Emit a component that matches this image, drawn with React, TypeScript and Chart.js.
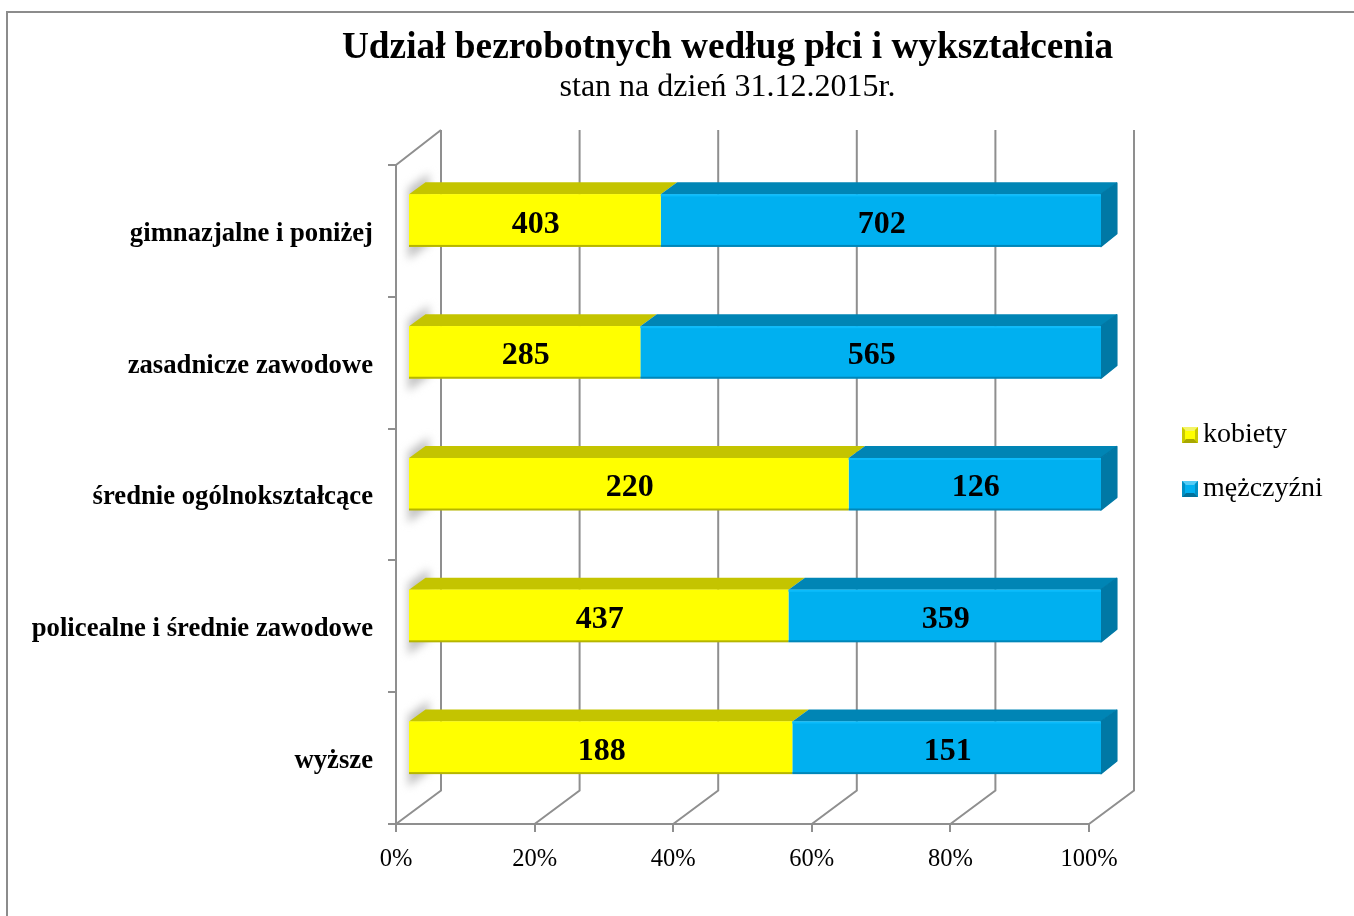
import React, { useEffect, useRef } from "react";
import { Chart, registerables } from "chart.js";

Chart.register(...registerables);

const categories = [
  "gimnazjalne i poniżej",
  "zasadnicze zawodowe",
  "średnie ogólnokształcące",
  "policealne i średnie zawodowe",
  "wyższe",
];
const kobiety = [403, 285, 220, 437, 188];
const mezczyzni = [702, 565, 126, 359, 151];
const seriesNames = ["kobiety", "mężczyźni"];
const titleText = "Udział bezrobotnych według płci i wykształcenia";
const subtitleText = "stan na dzień 31.12.2015r.";

const SERIF = "'Liberation Serif', 'Times New Roman', serif";
const GRAY = "#8f8f8f";
const WALL_DX = 45;
const WALL_DY = -33.5;
const BAR_DX = 12;
const BAR_DY = -10.5;
const FACE_DX = 16.5;
const FACE_DY = -12;
const faces = [
  { front: "#ffff00", top: "#c4c400", edge: "#b5b500", side: "#a8a800", shine: "#ffff00" },
  { front: "#00b0f0", top: "#0085b5", edge: "#0086b8", side: "#0078a5", shine: "#0cbcfb" },
];

function legendIcon(colorTop: string, colorMid: string, colorBottom: string, colorSide: string) {
  const c = document.createElement("canvas");
  c.width = 24;
  c.height = 16;
  const g = c.getContext("2d")!;
  const x = 8;
  g.fillStyle = colorMid;
  g.fillRect(x, 0, 16, 16);
  g.fillStyle = colorTop;
  g.beginPath();
  g.moveTo(x, 0);
  g.lineTo(x + 16, 0);
  g.lineTo(x + 12, 4);
  g.lineTo(x + 4, 4);
  g.closePath();
  g.fill();
  g.fillStyle = colorSide;
  g.beginPath();
  g.moveTo(x, 0);
  g.lineTo(x + 3, 3);
  g.lineTo(x + 3, 13);
  g.lineTo(x, 16);
  g.closePath();
  g.fill();
  g.beginPath();
  g.moveTo(x + 16, 0);
  g.lineTo(x + 13, 3);
  g.lineTo(x + 13, 13);
  g.lineTo(x + 16, 16);
  g.closePath();
  g.fill();
  g.fillStyle = colorBottom;
  g.beginPath();
  g.moveTo(x, 16);
  g.lineTo(x + 16, 16);
  g.lineTo(x + 12, 12);
  g.lineTo(x + 4, 12);
  g.closePath();
  g.fill();
  return c;
}

const placement = {
  id: "placement",
  afterLayout(chart: any) {
    chart.boxes
      .filter((b: any) => b.position === "top" && !b.isScale)
      .forEach((b: any) => {
        b.left = 101;
        b.right = 1354;
      });
    const legend = chart.legend;
    if (legend) {
      legend.left = 1157;
      legend.right = 1354;
      legend.top = 395;
      legend.bottom = 860;
    }
  },
};

const frame = {
  id: "frame",
  beforeDraw(chart: any) {
    const g = chart.ctx;
    g.save();
    g.strokeStyle = "#8c8c8c";
    g.lineWidth = 2;
    g.beginPath();
    g.moveTo(7, 916);
    g.lineTo(7, 12);
    g.lineTo(1354, 12);
    g.stroke();
    g.restore();
  },
};

const depth = {
  id: "depth",
  beforeDatasetsDraw(chart: any) {
    const g = chart.ctx;
    const { top, bottom, left } = chart.chartArea;
    const x = chart.scales.x;
    g.save();
    g.strokeStyle = GRAY;
    g.lineWidth = 2;
    g.beginPath();
    x.ticks.forEach((_: any, i: number) => {
      const px = x.getPixelForTick(i);
      g.moveTo(px, bottom);
      g.lineTo(px + WALL_DX, bottom + WALL_DY);
      g.lineTo(px + WALL_DX, top + WALL_DY - 1.5);
    });
    g.moveTo(left, top);
    g.lineTo(left + WALL_DX, top + WALL_DY - 1.5);
    g.stroke();

    // soft shadow that the bars cast on the left wall
    const m0 = chart.getDatasetMeta(0);
    m0.data.forEach((bar: any) => {
      const x0 = bar.base + BAR_DX;
      const y0 = bar.y + BAR_DY - bar.height / 2;
      const y1 = bar.y + BAR_DY + bar.height / 2;
      g.save();
      g.filter = "blur(4px)";
      g.fillStyle = "#c2c2c2";
      g.beginPath();
      g.moveTo(x0 - 1, y0 - 6);
      g.lineTo(x0 + 20, y0 - 21);
      g.lineTo(x0 + 20, y1 - 2);
      g.lineTo(x0 - 1, y1 + 13);
      g.closePath();
      g.fill();
      g.restore();
    });
    g.restore();

    // the top and end faces of every bar, then the bars themselves
    g.save();
    g.translate(BAR_DX, BAR_DY);
    g.lineJoin = "round";
    g.lineWidth = 1.5;
    [0, 1].forEach((d) => {
      chart.getDatasetMeta(d).data.forEach((bar: any) => {
        const yTop = bar.y - bar.height / 2;
        g.fillStyle = faces[d].top;
        g.beginPath();
        g.moveTo(bar.base, yTop);
        g.lineTo(bar.base + FACE_DX, yTop + FACE_DY);
        g.lineTo(bar.x + FACE_DX, yTop + FACE_DY);
        g.lineTo(bar.x, yTop);
        g.closePath();
        g.fill();
        if (d === 1) {
          g.fillStyle = faces[d].side;
          g.strokeStyle = faces[d].side;
          g.beginPath();
          g.moveTo(bar.x, yTop);
          g.lineTo(bar.x + FACE_DX - 0.7, yTop + FACE_DY + 0.7);
          g.lineTo(bar.x + FACE_DX - 0.7, yTop + FACE_DY + bar.height - 0.7);
          g.lineTo(bar.x, yTop + bar.height);
          g.closePath();
          g.fill();
          g.stroke();
        }
      });
    });
  },
  afterDatasetsDraw(chart: any) {
    const g = chart.ctx;
    [0, 1].forEach((d) => {
      chart.getDatasetMeta(d).data.forEach((bar: any) => {
        g.fillStyle = faces[d].edge;
        g.fillRect(bar.base, bar.y + bar.height / 2 - 1.5, bar.x - bar.base, 2);
        g.fillStyle = faces[d].shine;
        g.fillRect(bar.base, bar.y - bar.height / 2, bar.x - bar.base, 2);
      });
    });
    g.fillStyle = "#000000";
    g.font = `bold 32px ${SERIF}`;
    g.textAlign = "center";
    g.textBaseline = "middle";
    const raw = [kobiety, mezczyzni];
    [0, 1].forEach((d) => {
      chart.getDatasetMeta(d).data.forEach((bar: any, i: number) => {
        g.fillText(String(raw[d][i]), (bar.base + bar.x) / 2 + 1, bar.y + 4);
      });
    });
    g.restore();
  },
};

export default function App() {
  const ref = useRef<HTMLCanvasElement>(null);
  useEffect(() => {
    document.body.style.margin = "0";
    const icons = [
      legendIcon("#f4f466", "#ffff00", "#a8a800", "#c9c900"),
      legendIcon("#55ccf5", "#00b0f0", "#00709a", "#0090c4"),
    ];
    const share = (a: number, b: number) => (a / (a + b)) * 100;
    const chart = new Chart(ref.current!, {
      type: "bar",
      plugins: [placement, frame, depth],
      data: {
        labels: categories,
        datasets: [
          {
            label: seriesNames[0],
            data: kobiety.map((v, i) => share(v, mezczyzni[i])),
            backgroundColor: faces[0].front,
            borderWidth: 0,
            clip: false,
          },
          {
            label: seriesNames[1],
            data: mezczyzni.map((v, i) => share(v, kobiety[i])),
            backgroundColor: faces[1].front,
            borderWidth: 0,
            clip: false,
          },
        ] as any,
      },
      options: {
        indexAxis: "y",
        responsive: false,
        animation: false,
        events: [],
        layout: { padding: { left: 0, top: 0, right: 265, bottom: 0 } },
        datasets: { bar: { barPercentage: 1, categoryPercentage: 0.395 } },
        scales: {
          x: {
            stacked: true,
            min: 0,
            max: 100,
            afterFit: (s: any) => {
              s.height = 92;
            },
            ticks: {
              stepSize: 20,
              maxRotation: 0,
              padding: 13,
              color: "#000000",
              font: { family: SERIF, size: 24.5 },
              callback: (v: any) => `${v}%`,
            },
            grid: { drawOnChartArea: false, drawTicks: true, tickLength: 8, color: GRAY, lineWidth: 2 },
            border: { display: true, color: GRAY, width: 2 },
          },
          y: {
            stacked: true,
            afterFit: (s: any) => {
              s.width = 396;
            },
            ticks: {
              padding: 15,
              labelOffset: 3,
              color: "#000000",
              autoSkip: false,
              font: { family: SERIF, size: 26.7, weight: "bold" },
            },
            grid: { drawOnChartArea: false, drawTicks: true, tickLength: 8, color: GRAY, lineWidth: 2 },
            border: { display: true, color: GRAY, width: 2 },
          },
        } as any,
        plugins: {
          tooltip: { enabled: false },
          title: {
            display: true,
            text: titleText,
            color: "#000000",
            font: { family: SERIF, size: 37.3, weight: "bold", lineHeight: 1.15 },
            padding: { top: 26.55, bottom: 0.95 },
          },
          subtitle: {
            display: true,
            text: subtitleText,
            color: "#000000",
            font: { family: SERIF, size: 32, weight: "normal", lineHeight: 1.1 },
            padding: { top: 0, bottom: 59.4 },
          },
          legend: {
            display: true,
            position: "chartArea",
            align: "start",
            labels: {
              color: "#000000",
              font: { family: SERIF, size: 28 },
              padding: 26,
              boxWidth: 6,
              usePointStyle: true,
              generateLabels: (c: any) =>
                c.data.datasets.map((ds: any, i: number) => ({
                  text: ds.label,
                  fillStyle: ds.backgroundColor,
                  strokeStyle: ds.backgroundColor,
                  lineWidth: 0,
                  hidden: false,
                  datasetIndex: i,
                  pointStyle: icons[i],
                })),
            },
          },
        } as any,
      },
    } as any);
    return () => chart.destroy();
  }, []);
  return (
    <canvas
      ref={ref}
      width={1354}
      height={916}
      style={{ display: "block", position: "fixed", left: 0, top: 0 }}
    />
  );
}
